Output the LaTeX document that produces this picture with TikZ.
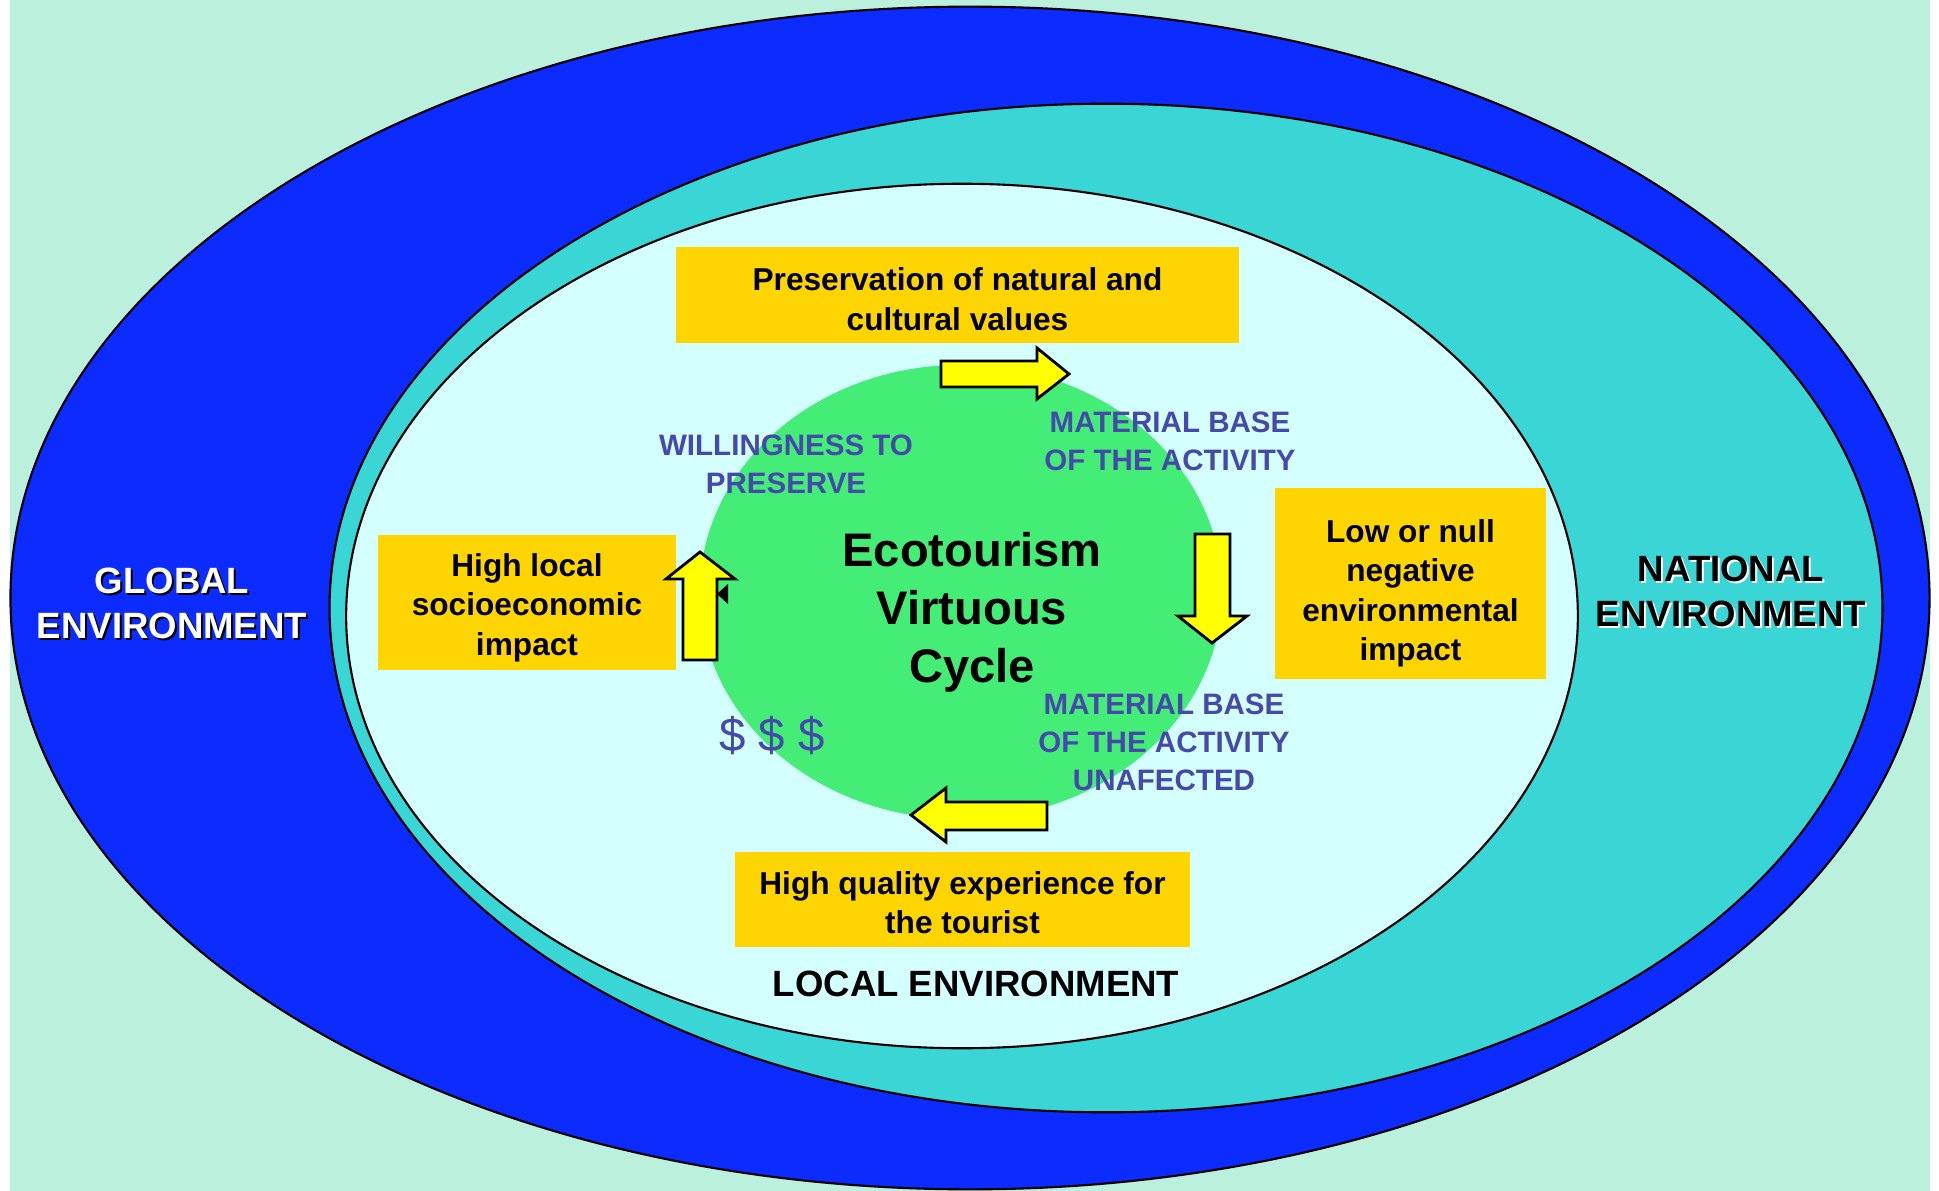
\documentclass[tikz,border=0pt]{standalone}
\usepackage{fontspec}
\setmainfont{Liberation Sans}
\usepackage{tikz}
\definecolor{mint}{RGB}{186,240,220}
\definecolor{globalblue}{RGB}{12,44,255}
\definecolor{nationalcyan}{RGB}{58,214,214}
\definecolor{localcyan}{RGB}{212,255,255}
\definecolor{cyclegreen}{RGB}{68,238,118}
\definecolor{boxgold}{RGB}{255,213,0}
\definecolor{arrowyellow}{RGB}{255,255,0}
\definecolor{labelblue}{RGB}{70,72,172}
\tikzstyle{zone}=[draw=black, line width=0.6pt]
\tikzstyle{valuebox}=[fill=boxgold, inner sep=0pt]
\tikzstyle{boxtext}=[inner sep=0pt, align=center, font=\fontsize{9}{11.2}\selectfont\bfseries]
\tikzstyle{flow}=[fill=arrowyellow, draw=black, line width=0.8pt, line join=miter]
\tikzstyle{cue}=[text=labelblue, align=center, font=\fontsize{8.4}{10.8}\selectfont\bfseries]
\tikzstyle{envlabel}=[align=center, font=\fontsize{10.4}{12.8}\selectfont\bfseries]

\begin{document}
\begin{tikzpicture}[x=0.01cm, y=-0.01cm]
  \useasboundingbox (0,0) rectangle (1939,1191);
  \fill[white] (0,0) rectangle (1939,1191);
  \fill[mint] (10,0) rectangle (1930,1191);

  % nested environments
  \filldraw[zone, fill=globalblue] (970,598) ellipse [x radius=9.59cm, y radius=5.91cm];
  \filldraw[zone, fill=nationalcyan] (1106,608) ellipse [x radius=7.76cm, y radius=5.04cm];
  \filldraw[zone, fill=localcyan] (962,616) ellipse [x radius=6.155cm, y radius=4.32cm];
  \fill[cyclegreen] (961,592) ellipse [x radius=2.61cm, y radius=2.27cm];

  \foreach \name/\x/\y/\w/\h/\dy/\txt in {
      pres/957.5/295/5.63/0.96/4/{Preservation of natural and\\cultural values},
      socio/527/602.5/2.98/1.35/5/{High local\\socioeconomic\\impact},
      impact/1410.5/583.5/2.71/1.91/10/{Low or null\\negative\\environmental\\impact},
      tourist/962.5/899.5/4.55/0.95/3/{High quality experience for\\the tourist}}
  {
    \node[valuebox, minimum width=\w cm, minimum height=\h cm] (B-\name) at (\x,\y) {};
    \node[boxtext] (T-\name) at (\x,\y+\dy) {\txt};
  }

  % cycle arrows
  \draw[flow] (941,361) -- (1037,361) -- (1037,348) -- (1069,374) -- (1037,399) -- (1037,387) -- (941,387) -- cycle;
  \draw[flow] (1195,534) -- (1230,534) -- (1230,616) -- (1247,616) -- (1212,643) -- (1178,616) -- (1195,616) -- cycle;
  \draw[flow] (1047,802) -- (946,802) -- (946,788) -- (911,815) -- (946,842) -- (946,830) -- (1047,830) -- cycle;
  \draw[flow] (683,660) -- (683,579) -- (666,579) -- (700,552) -- (735,579) -- (717,579) -- (717,660) -- cycle;
  \fill[black] (717,594) -- (728,584) -- (728,604) -- cycle;

  \node[font=\fontsize{13.4}{16.5}\selectfont\bfseries, align=center] (title) at (972,612) {Ecotourism\\Virtuous\\Cycle};

  \node[cue] (willing) at (786,464) {WILLINGNESS TO\\PRESERVE};
  \node[cue] (base) at (1170,441) {MATERIAL BASE\\OF THE ACTIVITY};
  \node[cue] (unaffected) at (1164,742) {MATERIAL BASE\\OF THE ACTIVITY\\UNAFECTED};
  \node[text=labelblue, font=\fontsize{13.5}{16}\selectfont] (money) at (772,736) {\$ \$ \$};

  % environment names
  \node[envlabel, text=black] (global-shadow) at (174,605) {GLOBAL\\ENVIRONMENT};
  \node[envlabel, text=white] (global) at (172,603) {GLOBAL\\ENVIRONMENT};
  \node[envlabel, text=white] (national-shadow) at (1733,593) {NATIONAL\\ENVIRONMENT};
  \node[envlabel, text=black] (national) at (1731,591) {NATIONAL\\ENVIRONMENT};
  \node[envlabel] (local) at (976,984) {LOCAL ENVIRONMENT};

\end{tikzpicture}
\end{document}
